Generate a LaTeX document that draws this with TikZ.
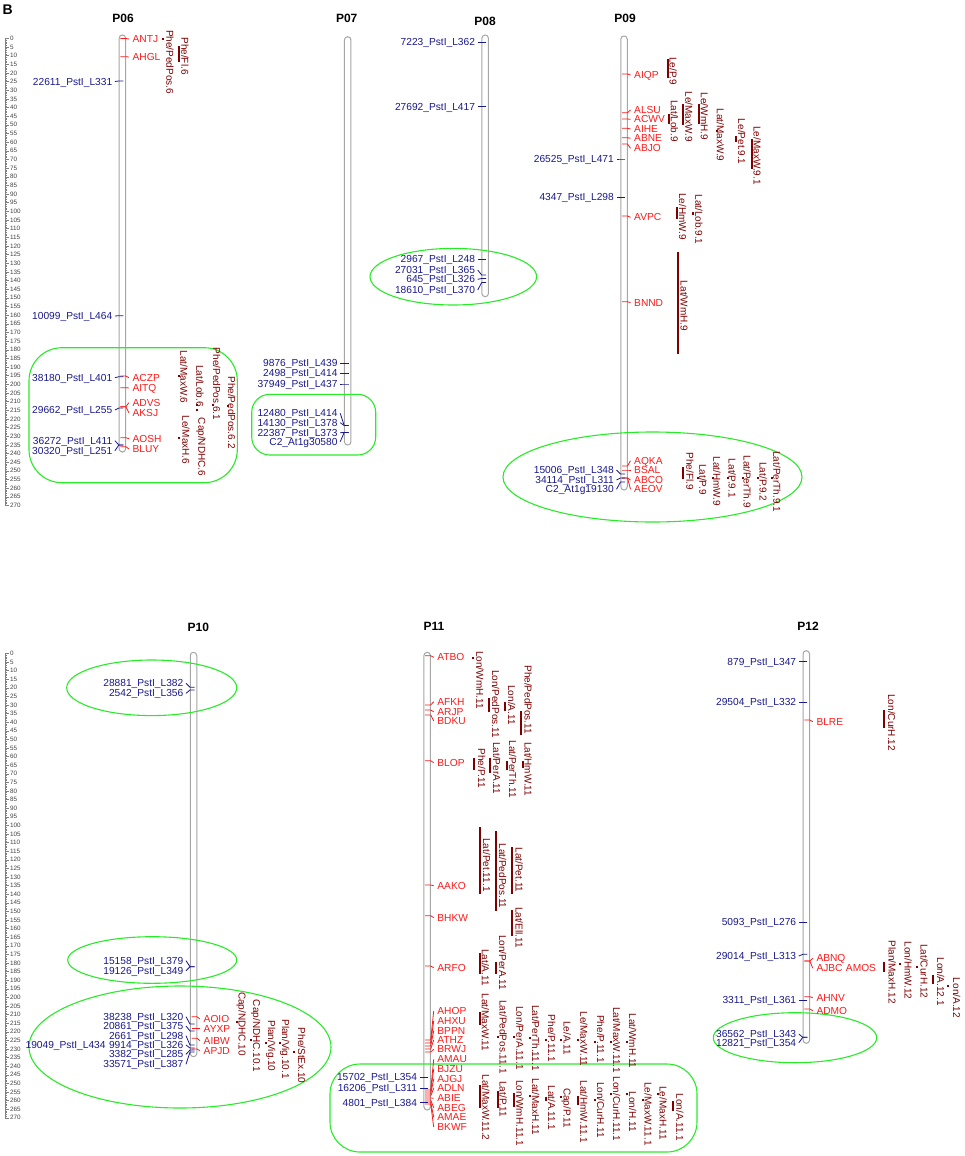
\documentclass[tikz,border=0pt]{standalone}
\usepackage{fontspec}
\setmainfont{Liberation Sans}
\usepackage{xcolor}
\usepackage{tikz}
\usetikzlibrary{calc,positioning,shapes}

\definecolor{mkblue}{RGB}{25,25,140}
\definecolor{mkred}{RGB}{255,25,25}
\definecolor{qtlred}{RGB}{128,0,0}
\definecolor{grp}{RGB}{40,235,40}
\definecolor{chr}{RGB}{165,165,165}

% right marker: name, chrom x, tick y, label y, text
\newcommand{\mkR}[5]{%
  \node[redlbl, anchor=west] (#1) at (#2+10,#4) {#5};
  \coordinate (#1c) at (#2-2,#3);
  \draw[redtick] (#1c) -- ++(5.5,0) -- ([xshift=-3.5pt]#1.west);
}
% left marker: name, chrom x, tick y, label y, text
\newcommand{\mkL}[5]{%
  \node[bluelbl, anchor=east] (#1) at (#2-10,#4) {#5};
  \coordinate (#1c) at (#2+1,#3);
  \draw[bluetick] (#1c) -- ++(-4.5,0) -- ([xshift=2.5pt]#1.east);
}
% qtl: name, bar x, y1, y2, text x, text y, text
\newcommand{\qtl}[7]{%
  \fill[qtlred] (#2-1,#3-1) rectangle (#2+1,#4+1);
  \node[qtltxt] (#1) at (#5,#6) {#7};
}

\begin{document}
\begin{tikzpicture}[x=1pt,y=-1pt]
  \tikzset{
    redlbl/.style  = {text=mkred, font=\fontsize{10.2}{10}\selectfont,
                      inner sep=0pt, text height=7.3pt, text depth=0pt},
    bluelbl/.style = {redlbl, text=mkblue},
    redtick/.style = {draw=mkred, line width=0.8pt},
    bluetick/.style= {draw=mkblue, line width=0.8pt},
    qtltxt/.style  = {text=qtlred, font=\fontsize{10}{10}\selectfont, rotate=-90,
                      inner sep=0pt, text height=7.2pt, text depth=0pt},
    chrom/.style   = {rectangle, rounded corners=3.2pt, draw=chr, line width=1pt,
                      minimum width=6.5pt, inner sep=0pt},
    grn/.style     = {draw=grp, line width=1.1pt},
    ttl/.style     = {font=\fontsize{12}{12}\selectfont\bfseries, inner sep=0pt},
    rul/.style     = {draw=gray, line width=0.4pt},
    rnum/.style    = {font=\fontsize{6.3}{6}\selectfont, text=black!75, anchor=west, inner sep=0pt}
  }
  \useasboundingbox (0,0) rectangle (964,1156);

  \node[font=\fontsize{14}{14}\selectfont\bfseries, anchor=west, inner sep=0pt] (B) at (2.5,10) {B};

  % scales
  \draw[rul] (5,38.3) -- (5,{38.3+270*1.73});
  \foreach \i in {0,...,270} \draw[rul] (5,{38.3+\i*1.73}) -- ++(1.8,0);
  \foreach \i in {0,5,...,270} {
    \draw[rul] (5,{38.3+\i*1.73}) -- ++(3.5,0);
    \node[rnum] (ta\i) at (10,{38.3+\i*1.73}) {\i};
  }
  \draw[rul] (5,653.3) -- (5,{653.3+270*1.72});
  \foreach \i in {0,...,270} \draw[rul] (5,{653.3+\i*1.72}) -- ++(1.8,0);
  \foreach \i in {0,5,...,270} {
    \draw[rul] (5,{653.3+\i*1.72}) -- ++(3.5,0);
    \node[rnum] (tb\i) at (10,{653.3+\i*1.72}) {\i};
  }

  % chromosomes
  \node[ttl] (tP06) at (123,18) {P06};
  \node[ttl] (tP07) at (346.7,18.3) {P07};
  \node[ttl] (tP08) at (485,21.7) {P08};
  \node[ttl] (tP09) at (625,18.3) {P09};
  \node[ttl] (tP10) at (198.3,627.3) {P10};
  \node[ttl] (tP11) at (434,626.7) {P11};
  \node[ttl] (tP12) at (808,626.5) {P12};
  \node[chrom, minimum height=417pt]   (P06) at (122.4,243.5) {};
  \node[chrom, minimum height=408.3pt] (P07) at (347.7,240.85) {};
  \node[chrom, minimum height=261.7pt] (P08) at (485.2,165.85) {};
  \node[chrom, minimum height=454pt]   (P09) at (624,263) {};
  \node[chrom, minimum height=404.4pt] (P10) at (193.5,854.5) {};
  \node[chrom, minimum height=457.7pt] (P11) at (427.2,881.15) {};
  \node[chrom, minimum height=392.6pt] (P12) at (806.3,847) {};

  % groups
  \draw[grn, rounded corners=33pt] (29,347.7) rectangle (237.3,482.7);
  \draw[grn, rounded corners=18pt] (251.7,394.3) rectangle (375.7,455);
  \draw[grn] (453.3,276.7) ellipse [x radius=83.3pt, y radius=28.3pt];
  \draw[grn] (652.5,477) ellipse [x radius=149.5pt, y radius=45pt];
  \draw[grn] (151.7,687.8) ellipse [x radius=85pt, y radius=27.8pt];
  \draw[grn] (152.2,960) ellipse [x radius=84.5pt, y radius=23.3pt];
  \draw[grn] (180,1047) ellipse [x radius=151pt, y radius=61pt];
  \draw[grn, rounded corners=30pt] (330,1064) rectangle (697,1152);
  \draw[grn] (795,1037.7) ellipse [x radius=81.7pt, y radius=25pt];

  % P06
  \mkR{ANTJ}{122.4}{38.5}{39}{ANTJ}
  \mkR{AHGL}{122.4}{56.7}{57}{AHGL}
  \mkR{ACZP}{122.4}{376}{377.7}{ACZP}
  \mkR{AITQ}{122.4}{387.7}{388}{AITQ}
  \mkR{ADVS}{122.4}{406.7}{402.7}{ADVS}
  \mkR{AKSJ}{122.4}{406.7}{412.7}{AKSJ}
  \mkR{AOSH}{122.4}{437.7}{438.7}{AOSH}
  \mkR{BLUY}{122.4}{446.7}{449}{BLUY}
  \mkL{m22611}{122.4}{81}{81.5}{22611\_PstI\_L331}
  \mkL{m10099}{122.4}{315.7}{316}{10099\_PstI\_L464}
  \mkL{m38180}{122.4}{376.7}{377.7}{38180\_PstI\_L401}
  \mkL{m29662}{122.4}{408}{410}{29662\_PstI\_L255}
  \mkL{m36272}{122.4}{445}{440.7}{36272\_PstI\_L411}
  \mkL{m30320}{122.4}{445}{450.7}{30320\_PstI\_L251}
  \qtl{q6a}{163.3}{39.3}{39.3}{170}{62}{Phe/PedPos.6}
  \qtl{q6b}{179}{46.7}{60.7}{185}{56}{Phe/Fl.6}
  \qtl{q6c}{179}{376}{376}{184}{377}{Lat/MaxW.6}
  \qtl{q6d}{179}{438}{438}{186}{440}{Le/MaxH.6}
  \qtl{q6e}{197}{405}{405}{200}{386}{Lat/Lob.6}
  \qtl{q6f}{197}{410}{410}{202}{447}{Cap/NDHC.6}
  \qtl{q6g}{213}{405}{405}{216.7}{384}{Phe/PedPos.6.1}
  \qtl{q6h}{228}{406}{406}{231.7}{412.5}{Phe/PedPos.6.2}

  % P07
  \mkL{m9876}{347.7}{363.3}{363.3}{9876\_PstI\_L439}
  \mkL{m2498}{347.7}{373.3}{373.3}{2498\_PstI\_L414}
  \mkL{m37949}{347.7}{384}{384}{37949\_PstI\_L437}
  \mkL{m12480}{347.7}{425.5}{413.3}{12480\_PstI\_L414}
  \mkL{m14130}{347.7}{425.5}{422.7}{14130\_PstI\_L378}
  \mkL{m22387}{347.7}{432.5}{432.7}{22387\_PstI\_L373}
  \mkL{mC2a}{347.7}{432.5}{441.7}{C2\_At1g30580}

  % P08
  \mkL{m7223}{485.2}{42.3}{42.3}{7223\_PstI\_L362}
  \mkL{m27692}{485.2}{106.7}{106.7}{27692\_PstI\_L417}
  \mkL{m2967}{485.2}{259.3}{259.3}{2967\_PstI\_L248}
  \mkL{m27031}{485.2}{275}{270}{27031\_PstI\_L365}
  \mkL{m645}{485.2}{278.5}{279.3}{645\_PstI\_L326}
  \mkL{m18610}{485.2}{282.5}{290}{18610\_PstI\_L370}

  % P09
  \mkR{AIQP}{624}{74}{75}{AIQP}
  \mkR{ALSU}{624}{112.7}{110}{ALSU}
  \mkR{ACWV}{624}{119}{119.3}{ACWV}
  \mkR{AIHE}{624}{128.3}{129}{AIHE}
  \mkR{ABNE}{624}{137.7}{138.3}{ABNE}
  \mkR{ABJO}{624}{144}{148.3}{ABJO}
  \mkL{m26525}{624}{159}{159}{26525\_PstI\_L471}
  \mkL{m4347}{624}{197.3}{197.3}{4347\_PstI\_L298}
  \mkR{AVPC}{624}{216}{217.3}{AVPC}
  \mkR{BNND}{624}{301.7}{302.7}{BNND}
  \mkR{AQKA}{624}{466}{460.7}{AQKA}
  \mkR{BSAL}{624}{470}{470}{BSAL}
  \mkR{ABCO}{624}{478}{480}{ABCO}
  \mkR{AEOV}{624}{478}{489.3}{AEOV}
  \mkL{m15006}{624}{474}{470}{15006\_PstI\_L348}
  \mkL{m34114}{624}{478}{480}{34114\_PstI\_L311}
  \mkL{mC2b}{624}{482}{489.3}{C2\_At1g19130}
  \qtl{q9a}{668.3}{60}{77.3}{673.3}{71}{Le/P.9}
  \qtl{q9b}{669}{115}{123.3}{674.5}{121}{Lat/Lob.9}
  \qtl{q9c}{683.3}{105}{124}{689}{116.7}{Le/MaxW.9}
  \qtl{q9d}{699}{105}{122.7}{704.5}{116.3}{Le/WmH.9}
  \qtl{q9e}{717.3}{131}{131}{720.5}{135}{Lat/MaxW.9}
  \qtl{q9f}{735.7}{137}{140.5}{741.7}{141.7}{Le/Pet.9.1}
  \qtl{q9g}{751.7}{140}{168.3}{757.3}{155.5}{Le/MaxW.9.1}
  \qtl{q9h}{693.3}{212.5}{214}{699}{219.5}{Lat/Lob.9.1}
  \qtl{q9i}{677.3}{208.3}{218.3}{682.7}{216.7}{Le/HmW.9}
  \qtl{q9j}{678.3}{253.3}{352.7}{684.3}{306}{Lat/WmH.9}
  \qtl{q9k}{682.7}{468.3}{478.3}{690}{471.3}{Phe/Fl.9}
  \qtl{q9l}{697.5}{478.3}{478.3}{703}{479.5}{Lat/P.9}
  \qtl{q9m}{712.5}{478.3}{478.3}{717}{481.3}{Lat/HmW.9}
  \qtl{q9n}{727.5}{478.3}{478.3}{732.3}{478.3}{Lat/P.9.1}
  \qtl{q9o}{742.5}{478.3}{478.3}{747.3}{481.7}{Lat/PerTh.9}
  \qtl{q9p}{758}{478.3}{478.3}{763.3}{481.7}{Lat/P.9.2}
  \qtl{q9q}{772}{478.3}{478.3}{777}{481.7}{Lat/PerTh.9.1}

  % P10
  \mkL{m28881}{193.5}{687.3}{683.3}{28881\_PstI\_L382}
  \mkL{m2542}{193.5}{690}{693.3}{2542\_PstI\_L356}
  \mkL{m15158}{193.5}{966.7}{960.7}{15158\_PstI\_L379}
  \mkL{m19126}{193.5}{966.7}{970.7}{19126\_PstI\_L349}
  \mkL{m38238}{193.5}{1024}{1016.7}{38238\_PstI\_L320}
  \mkL{m20861}{193.5}{1031}{1026}{20861\_PstI\_L375}
  \mkL{m2661}{193.5}{1045}{1035.7}{2661\_PstI\_L298}
  \mkL{m9914}{193.5}{1048}{1045}{9914\_PstI\_L326}
  \node[bluelbl, left=3pt of m9914] (m19049) {19049\_PstI\_L434};
  \mkL{m3382}{193.5}{1050}{1054.3}{3382\_PstI\_L285}
  \mkL{m33571}{193.5}{1052}{1064.3}{33571\_PstI\_L387}
  \mkR{AOIO}{193.5}{1016.7}{1019}{AOIO}
  \mkR{AYXP}{193.5}{1028.7}{1028.7}{AYXP}
  \mkR{AIBW}{193.5}{1038.3}{1040.7}{AIBW}
  \mkR{APJD}{193.5}{1049}{1050.7}{APJD}
  \qtl{q10a}{236.7}{1021.7}{1021.7}{242.3}{1024}{Cap/NDHC.10}
  \qtl{q10b}{251}{1040}{1040}{256.7}{1036}{Cap/NDHC.10.1}
  \qtl{q10c}{266}{1043}{1043}{271.7}{1046}{Plan/Vig.10}
  \qtl{q10d}{280}{1043}{1043}{285.7}{1049}{Plan/Vig.10.1}
  \qtl{q10e}{294.3}{1051.7}{1051.7}{301.7}{1055.7}{Phe/StEx.10}

  % P11
  \mkR{ATBO}{427.2}{655.7}{657.3}{ATBO}
  \mkR{AFKH}{427.2}{705}{701.7}{AFKH}
  \mkR{ARJP}{427.2}{710}{711.7}{ARJP}
  \mkR{BDKU}{427.2}{715}{721}{BDKU}
  \mkR{BLOP}{427.2}{760.7}{762.7}{BLOP}
  \mkR{AAKO}{427.2}{885}{885.7}{AAKO}
  \mkR{BHKW}{427.2}{915.7}{917.7}{BHKW}
  \mkR{ARFO}{427.2}{966}{967.7}{ARFO}
  \mkR{AHOP}{427.2}{1040}{1011}{AHOP}
  \mkR{AHXU}{427.2}{1043}{1021}{AHXU}
  \mkR{BPPN}{427.2}{1046}{1030.7}{BPPN}
  \mkR{ATHZ}{427.2}{1049}{1040}{ATHZ}
  \mkR{BRWJ}{427.2}{1052}{1049.3}{BRWJ}
  \mkR{AMAU}{427.2}{1090}{1059.3}{AMAU}
  \mkR{BJZU}{427.2}{1092}{1069}{BJZU}
  \mkR{AJGJ}{427.2}{1094}{1079}{AJGJ}
  \mkR{ADLN}{427.2}{1096}{1088.3}{ADLN}
  \mkR{ABIE}{427.2}{1098}{1098.3}{ABIE}
  \mkR{ABEG}{427.2}{1100}{1107.7}{ABEG}
  \mkR{AMAE}{427.2}{1102}{1117.3}{AMAE}
  \mkR{BKWF}{427.2}{1104}{1127}{BKWF}
  \mkL{m15702}{427.2}{1077.3}{1077.3}{15702\_PstI\_L354}
  \mkL{m16206}{427.2}{1088.3}{1088.3}{16206\_PstI\_L311}
  \mkL{m4801}{427.2}{1102.7}{1102.7}{4801\_PstI\_L384}
  \qtl{q11a}{472.7}{657.7}{657.7}{480}{680}{Lon/WmH.11}
  \qtl{q11b}{489}{699}{710.7}{495.7}{704}{Lon/PedPos.11}
  \qtl{q11c}{505}{703.3}{710}{511.7}{705}{Lon/A.11}
  \qtl{q11d}{521}{712.3}{734}{528.3}{699.7}{Phe/PedPos.11}
  \qtl{q11e}{474}{759.3}{769.3}{481.7}{768.3}{Phe/P.11}
  \qtl{q11f}{490}{759.3}{771.7}{496.7}{768.3}{Lat/PerA.11}
  \qtl{q11g}{506.7}{761.7}{769.3}{512.7}{769.2}{Lat/PerTh.11}
  \qtl{q11h}{522.7}{761.7}{766.7}{528.3}{769.2}{Lat/HmW.11}
  \qtl{q11i}{480}{828.3}{892.7}{486.7}{865}{Lat/Pet.11.1}
  \qtl{q11j}{496}{831.7}{910}{502.7}{876}{Lat/PedPos.11}
  \qtl{q11k}{512.3}{848.3}{892.7}{519.3}{870}{Lat/Pet.11}
  \qtl{q11l}{512.3}{910.7}{935}{519.3}{927.5}{Lat/Ell.11}
  \qtl{q11m}{495.7}{963.3}{972.7}{502.7}{962.5}{Lon/PerA.11}
  \qtl{q11n}{480}{954}{972.7}{485.5}{967.5}{Lat/A.11}
  \qtl{q11o}{480}{1012.7}{1024}{485.5}{1022.5}{Lat/MaxW.11}
  \qtl{q11p}{497.5}{1037}{1037}{503.3}{1037}{Lat/PedPos.11.1}
  \qtl{q11q}{514}{1037}{1037}{520}{1038}{Lon/PerA.11.1}
  \qtl{q11r}{530}{1038}{1038}{535.7}{1038}{Lat/PerTh.11.1}
  \qtl{q11s}{545.7}{1040}{1040}{551.7}{1038.5}{Phe/P.11.1}
  \qtl{q11t}{561.3}{1040}{1040}{567.3}{1038}{Le/A.11}
  \qtl{q11u}{578}{1040}{1040}{584}{1039}{Le/MaxW.11}
  \qtl{q11v}{594.7}{1042}{1042}{600.7}{1039}{Phe/P.11.1}
  \qtl{q11w}{610.7}{1042}{1042}{616.7}{1040}{Lat/MaxW.11.1}
  \qtl{q11x}{626.7}{1042}{1042}{632.7}{1041}{Lat/WmH.11}
  \qtl{q11y}{480}{1086}{1106.7}{486}{1107.5}{Lat/MaxW.11.2}
  \qtl{q11z}{497.5}{1092}{1106.7}{503.3}{1099}{Lat/P.11}
  \qtl{q11A}{514}{1094}{1106}{520}{1113}{Lon/WmH.11.1}
  \qtl{q11B}{530}{1096}{1096}{535.7}{1106.7}{Lat/MaxH.11}
  \qtl{q11C}{545.7}{1098}{1100}{551.7}{1108}{Lat/A.11.1}
  \qtl{q11D}{561.3}{1097}{1097}{567.3}{1108}{Cap/P.11}
  \qtl{q11E}{578}{1097}{1104}{584}{1112}{Lat/HmW.11.1}
  \qtl{q11F}{594.7}{1100}{1100}{600.7}{1110}{Lon/CurH.11}
  \qtl{q11G}{610.7}{1094}{1094}{616.7}{1109}{Lon/CurH.11.1}
  \qtl{q11H}{626.7}{1094}{1094}{632.7}{1111.7}{Lon/H.11}
  \qtl{q11I}{642.7}{1100}{1100}{648.3}{1114}{Le/MaxW.11.1}
  \qtl{q11J}{657.7}{1094}{1094}{663.3}{1113}{Le/MaxH.11}
  \qtl{q11K}{673.3}{1101.7}{1110}{680}{1117.5}{Lon/A.11.1}

  % P12
  \mkL{m879}{806.3}{661.7}{661.7}{879\_PstI\_L347}
  \mkL{m29504}{806.3}{702.3}{702.3}{29504\_PstI\_L332}
  \mkR{BLRE}{806.3}{720}{721.7}{BLRE}
  \mkL{m5093}{806.3}{922.3}{922.3}{5093\_PstI\_L276}
  \mkL{m29014}{806.3}{954.3}{956}{29014\_PstI\_L313}
  \mkR{ABNQ}{806.3}{961}{958.3}{ABNQ}
  \mkR{AJBC}{806.3}{961}{968.3}{AJBC}
  \node[redlbl, right=3pt of AJBC] (AMOS) {AMOS};
  \mkL{m3311}{806.3}{1000}{1000}{3311\_PstI\_L361}
  \mkR{AHNV}{806.3}{996.7}{997.7}{AHNV}
  \mkR{ADMO}{806.3}{1009}{1010.7}{ADMO}
  \mkL{m36562}{806.3}{1037.3}{1034}{36562\_PstI\_L343}
  \mkL{m12821}{806.3}{1037.3}{1042.7}{12821\_PstI\_L354}
  \qtl{q12a}{884}{711}{726.7}{891.7}{722.7}{Lon/CurH.12}
  \qtl{q12b}{884}{963.3}{970.7}{892.3}{972.2}{Plan/MaxH.12}
  \qtl{q12c}{900}{964.3}{964.3}{908.3}{970.5}{Lon/HmW.12}
  \qtl{q12d}{917.3}{966.7}{966.7}{924.3}{971.2}{Lat/CurH.12}
  \qtl{q12e}{933.3}{976}{983.3}{940.7}{981.7}{Lon/A.12.1}
  \qtl{q12f}{948.3}{986}{986}{956.7}{998}{Lon/A.12}
\end{tikzpicture}
\end{document}
